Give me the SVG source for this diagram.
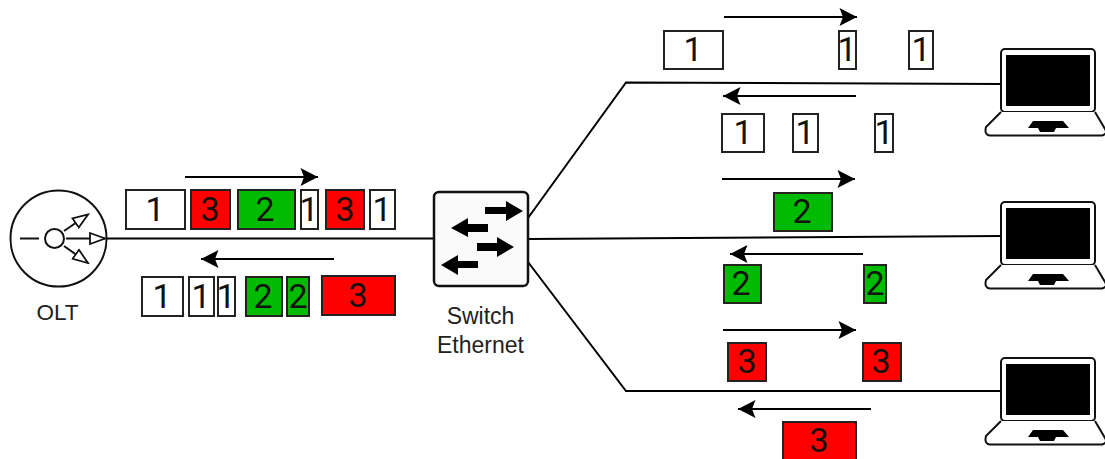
<svg xmlns="http://www.w3.org/2000/svg" width="1105" height="459" viewBox="0 0 1105 459">
<style>
.l{fill:none;stroke:#000;stroke-width:2}
.a{fill:none;stroke:#000;stroke-width:2;marker-end:url(#ah)}
.b rect{stroke:#222;stroke-width:2}
.w{fill:#fff}.r{fill:#f00}.g{fill:#0b0}
text{font-family:"Liberation Sans",Arial,sans-serif;fill:#111;text-anchor:middle}
.n{font-family:Roboto,"Liberation Sans",sans-serif;font-size:34px}
.c{font-size:23px;fill:#222}
</style>
<defs>
<marker id="ah" markerUnits="userSpaceOnUse" markerWidth="20" markerHeight="20" refX="18.500" refY="10" orient="auto"><path d="M1 1L18.500 10L1 19L4.500 10Z" fill="#000"/></marker>
<marker id="oh" markerUnits="userSpaceOnUse" markerWidth="18" markerHeight="14" refX="16" refY="7" orient="auto"><path d="M1 1.500L16 7L1 12.500Z" fill="#fff" stroke="#111" stroke-width="1.800"/></marker>
<g id="lap">
<rect x="1001" y="49" width="94" height="63" rx="4" fill="#fff" stroke="#111" stroke-width="2"/>
<rect x="1006" y="55" width="84" height="51" fill="#000"/>
<path d="M1001 112L986 127Q984 135 990 135.500H1102Q1108 134 1105 129L1095 112" fill="#fff" stroke="#111" stroke-width="2"/>
<path d="M1033 121H1063L1069 128H1056L1054 132H1040L1038 128H1028Z" fill="#000"/>
</g>
</defs>
<g id="connectors">
<path class="l" d="M106 238.500H434"/>
<path class="l" d="M528 218L626 82.500L1001 84"/>
<path class="l" d="M528 239L1001 236"/>
<path class="l" d="M528 262L626 391L1001 391"/>
<path class="a" d="M185 177H318"/>
<path class="a" d="M334 259H201"/>
<path class="a" d="M724 17H857"/>
<path class="a" d="M856 96H723"/>
<path class="a" d="M722 179H855"/>
<path class="a" d="M863 254H730"/>
<path class="a" d="M723 330H856"/>
<path class="a" d="M871 409H738"/>
</g>
<g id="olt">
<circle cx="58.500" cy="238.500" r="48" fill="#fff" stroke="#111" stroke-width="2"/>
<path d="M20 238.500H39" stroke="#111" stroke-width="2"/>
<path d="M66 238.500H105" stroke="#111" stroke-width="2" marker-end="url(#oh)"/>
<path d="M64 231L88 214.500" stroke="#111" stroke-width="2" marker-end="url(#oh)"/>
<path d="M64 246L88 263" stroke="#111" stroke-width="2" marker-end="url(#oh)"/>
<circle cx="54.500" cy="238.500" r="9.500" fill="#fff" stroke="#111" stroke-width="2"/>
<text x="57.500" y="320" font-size="22.500" style="fill:#222">OLT</text>
</g>
<g id="switch">
<rect x="434" y="192" width="94" height="94" rx="5" fill="#fafafa" stroke="#111" stroke-width="2.500"/>
<path d="M485 207H506V201L523 211L506 221V214H485Z" fill="#000"/>
<path d="M488 224V232H468V237L451 228L468 218V224Z" fill="#000"/>
<path d="M477 243H497V237L514 247L497 257V251H477Z" fill="#000"/>
<path d="M478 261V268H458V275L441 265L458 255V261Z" fill="#000"/>
<text class="c" x="480.500" y="324">Switch</text>
<text class="c" x="480.500" y="353">Ethernet</text>
</g>
<g id="packets-up" class="b">
<rect class="w" x="126" y="190" width="59" height="39"/><text class="n" x="155" y="221">1</text>
<rect class="r" x="191" y="190" width="39" height="39"/><text class="n" x="210" y="221">3</text>
<rect class="g" x="238" y="190" width="57" height="39"/><text class="n" x="265" y="221">2</text>
<rect class="w" x="301" y="190" width="17" height="39"/><text class="n" x="309" y="221">1</text>
<rect class="r" x="326" y="190" width="38" height="39"/><text class="n" x="345" y="221">3</text>
<rect class="w" x="370" y="190" width="25" height="39"/><text class="n" x="382" y="221">1</text>
</g>
<g id="packets-down" class="b">
<rect class="w" x="142" y="277" width="41" height="39"/><text class="n" x="162" y="308">1</text>
<rect class="w" x="189" y="277" width="25" height="39"/><text class="n" x="201" y="308">1</text>
<rect class="w" x="218" y="277" width="17" height="39"/><text class="n" x="226" y="308">1</text>
<rect class="g" x="246" y="277" width="36" height="39"/><text class="n" x="263" y="308">2</text>
<rect class="g" x="287" y="277" width="22" height="39"/><text class="n" x="298" y="308">2</text>
<rect class="r" x="322" y="276" width="73" height="39"/><text class="n" x="358" y="307">3</text>
</g>
<g id="packets-pc1" class="b">
<rect class="w" x="664" y="31" width="59" height="38"/><text class="n" x="693" y="61">1</text>
<rect class="w" x="839" y="31" width="17" height="38"/><text class="n" x="847" y="61">1</text>
<rect class="w" x="909" y="31" width="24" height="38"/><text class="n" x="921" y="61">1</text>
<rect class="w" x="722" y="114" width="42" height="38"/><text class="n" x="743" y="144">1</text>
<rect class="w" x="793" y="114" width="25" height="38"/><text class="n" x="805" y="144">1</text>
<rect class="w" x="875" y="114" width="18" height="38"/><text class="n" x="884" y="144">1</text>
</g>
<g id="packets-pc2" class="b">
<rect class="g" x="774" y="193" width="58" height="38"/><text class="n" x="802" y="223">2</text>
<rect class="g" x="724" y="265" width="37" height="38"/><text class="n" x="741" y="295">2</text>
<rect class="g" x="864" y="265" width="22" height="38"/><text class="n" x="875" y="295">2</text>
</g>
<g id="packets-pc3" class="b">
<rect class="r" x="728" y="343" width="38" height="38"/><text class="n" x="747" y="373">3</text>
<rect class="r" x="863" y="343" width="38" height="38"/><text class="n" x="881" y="373">3</text>
<rect class="r" x="783" y="422" width="73" height="38"/><text class="n" x="819" y="452">3</text>
</g>
<g id="laptop-1"><use href="#lap"/></g>
<g id="laptop-2"><use href="#lap" y="153"/></g>
<g id="laptop-3"><use href="#lap" y="309"/></g>
</svg>
